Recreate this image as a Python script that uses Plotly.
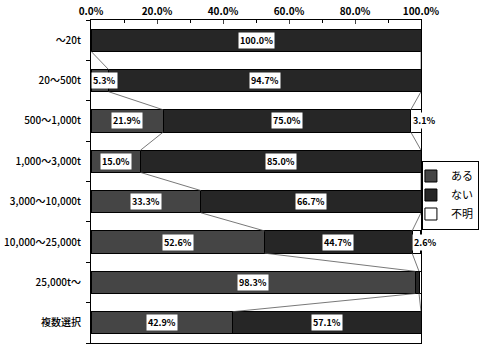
import plotly.graph_objects as go

categories = ["～20t", "20～500t", "500～1,000t", "1,000～3,000t", "3,000～10,000t",
              "10,000～25,000t", "25,000t～", "複数選択"]
aru = [0, 5.3, 21.9, 15.0, 33.3, 52.6, 98.3, 42.9]
nai = [100.0, 94.7, 75.0, 85.0, 66.7, 44.7, 1.1, 57.1]
fumei = [0, 0, 3.1, 0, 0, 2.6, 0.6, 0]
series_names = ["ある", "ない", "不明"]
colors = ["#454545", "#262626", "#ffffff"]
x_ticks = [0, 20, 40, 60, 80, 100]
x_ticktext = ["0.0%", "20.0%", "40.0%", "60.0%", "80.0%", "100.0%"]

ypos = list(range(len(categories)))
bw = 0.55
fig = go.Figure()
for name, vals, col in zip(series_names, [aru, nai, fumei], colors):
    fig.add_trace(go.Bar(y=ypos, x=vals, name=name, orientation="h", width=bw,
                         marker=dict(color=col, line=dict(color="black", width=1))))

# series lines
cum1 = aru
cum2 = [a + n for a, n in zip(aru, nai)]
for cum in (cum1, cum2):
    for i in range(len(categories) - 1):
        fig.add_trace(go.Scatter(x=[cum[i], cum[i + 1]], y=[i + bw / 2, i + 1 - bw / 2],
                                 mode="lines", line=dict(color="#555", width=0.8),
                                 showlegend=False, hoverinfo="skip"))

# data labels
lab_font = dict(size=9, color="black", family="Noto Sans CJK JP", weight="bold")
for i in range(len(categories)):
    start = 0
    for vals in (aru, nai, fumei):
        v = vals[i]
        if v >= 2:
            if v < 8:
                fig.add_annotation(x=start, y=i, text=f"{v:.1f}%", showarrow=False,
                                   xanchor="left", bgcolor="white", borderpad=1, font=lab_font)
            else:
                fig.add_annotation(x=start + v / 2, y=i, text=f"{v:.1f}%", showarrow=False,
                                   bgcolor="white", borderpad=1, font=lab_font)
        start += v

fig.update_layout(
    barmode="stack", width=480, height=345,
    margin=dict(l=91, r=58, t=20, b=2),
    paper_bgcolor="white", plot_bgcolor="white",
    font=dict(family="Noto Sans CJK JP", color="black", size=11),
    legend=dict(x=1.172, y=0.565, xanchor="right", yanchor="top", traceorder="normal",
                bordercolor="black", borderwidth=1, font=dict(size=11),
                tracegroupgap=0, itemwidth=30, indentation=-12),
)
fig.update_xaxes(side="top", range=[0, 100], tickvals=x_ticks, ticktext=x_ticktext,
                 ticks="inside", ticklen=4, showgrid=False, showline=True,
                 linecolor="black", linewidth=1, mirror=True,
                 minor=dict(tickvals=[10, 30, 50, 70, 90], ticks="inside", ticklen=3,
                            tickcolor="black", showgrid=False),
                 tickfont=dict(size=10, color="black", weight="bold"), zeroline=False)
fig.update_yaxes(range=[len(categories) - 0.5, -0.5], tickvals=ypos, ticktext=categories,
                 ticks="", showgrid=False, showline=True, linecolor="black", linewidth=1,
                 mirror=True, zeroline=False, ticklabelstandoff=7, automargin=False,
                 minor=dict(tickvals=[i + 0.5 for i in range(-1, len(categories))],
                            ticks="outside", ticklen=4, tickcolor="black", showgrid=False),
                 tickfont=dict(size=10, color="black", weight=500))
fig.write_html("out.html")
